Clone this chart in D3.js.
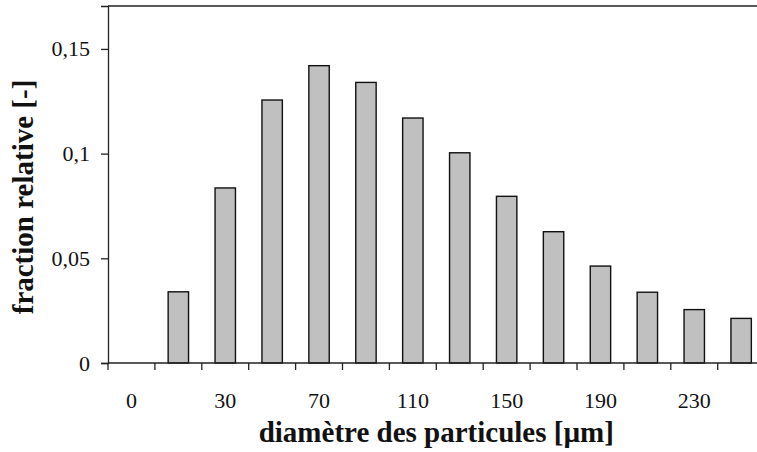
<!DOCTYPE html>
<html>
<head>
<meta charset="utf-8">
<script src="https://cdn.jsdelivr.net/npm/d3@7"></script>
<style>
    html, body { margin: 0; padding: 0; background: #fff; overflow: hidden; }
    svg { display: block; font-family: "Palatino Linotype", "Book Antiqua", Palatino, "Liberation Serif", serif; }
</style>
</head>
<body>
<div class="graph"></div>
<script>
"use strict";

// diameter classes [µm]; first class has no bar
var categories = [0, 10, 30, 50, 70, 90, 110, 130, 150, 170, 190, 210, 230, 250];
var fractions = [0, 0.034, 0.0836, 0.1256, 0.142, 0.134, 0.117, 0.1004, 0.0796, 0.0627, 0.0463, 0.0338, 0.0255, 0.0213];
var labelledCategories = [0, 30, 70, 110, 150, 190, 230];
var yTicks = [0, 0.05, 0.1, 0.15];

var width = 757;
var height = 452;
var plotLeft = 108;
var plotTop = 6;
var plotBottom = 363;
var bandWidth = 46.9;
var plotRight = plotLeft + bandWidth * categories.length;

var svg = d3.select(".graph").append("svg").attr("width", width).attr("height", height);

var xScale = d3.scaleBand().domain(categories).range([plotLeft, plotRight]).paddingInner(0).paddingOuter(0);
var yScale = d3.scaleLinear().domain([0, 0.1705]).range([plotBottom, plotTop]);

var formatComma = function (d) {
    return d === 0 ? "0" : String(d).replace(".", ",");
};

// top edge of the plot frame (the right edge is cut off in the picture)
svg.append("line")
    .attr("x1", plotLeft).attr("x2", width + 10).attr("y1", plotTop).attr("y2", plotTop)
    .attr("stroke", "#222").attr("stroke-width", 1.3);

// bars
var barWidth = xScale.bandwidth() * 0.435;
svg.selectAll("rect.bar").data(categories.map(function (c, i) {
    return { cat: c, value: fractions[i] };
}).filter(function (d) { return d.value > 0; })).enter().append("rect")
    .attr("class", "bar")
    .attr("x", function (d) { return xScale(d.cat) + (xScale.bandwidth() - barWidth) / 2; })
    .attr("y", function (d) { return yScale(d.value); })
    .attr("width", barWidth)
    .attr("height", function (d) { return plotBottom - yScale(d.value); })
    .attr("fill", "#c0c0c0")
    .attr("stroke", "#111")
    .attr("stroke-width", 1.4);

// y axis
var yAxis = d3.axisLeft(yScale).tickValues(yTicks).tickSize(7).tickPadding(11).tickFormat(formatComma);
var yG = svg.append("g").attr("transform", "translate(" + plotLeft + ",0)").call(yAxis);
yG.attr("font-family", null);
yG.select(".domain").attr("stroke", "#222").attr("stroke-width", 1.3);
yG.selectAll(".tick line").attr("stroke", "#222").attr("stroke-width", 1.3);
yG.selectAll(".tick text").attr("font-size", 22).attr("fill", "#111");

// x axis: ticks at class boundaries, labels every other class
svg.append("line")
    .attr("x1", plotLeft).attr("x2", width + 10).attr("y1", plotBottom).attr("y2", plotBottom)
    .attr("stroke", "#222").attr("stroke-width", 1.3);
svg.selectAll("line.xtick").data(categories).enter().append("line")
    .attr("class", "xtick")
    .attr("x1", function (d) { return xScale(d); })
    .attr("x2", function (d) { return xScale(d); })
    .attr("y1", plotBottom).attr("y2", plotBottom + 7)
    .attr("stroke", "#222").attr("stroke-width", 1.3);
svg.selectAll("text.xlabel").data(labelledCategories).enter().append("text")
    .attr("class", "xlabel")
    .attr("x", function (d) { return xScale(d) + xScale.bandwidth() / 2; })
    .attr("y", 408)
    .attr("text-anchor", "middle")
    .attr("font-size", 22)
    .attr("fill", "#111")
    .text(function (d) { return d; });

// axis titles
svg.append("text")
    .attr("x", (plotLeft + plotRight) / 2).attr("y", 442)
    .attr("text-anchor", "middle")
    .attr("font-size", 29).attr("font-weight", "bold").attr("fill", "#111")
    .text("diamètre des particules [µm]");

svg.append("text")
    .attr("transform", "translate(33,197) rotate(-90)")
    .attr("text-anchor", "middle")
    .attr("font-size", 29).attr("font-weight", "bold").attr("fill", "#111")
    .text("fraction relative [-]");
</script>
</body>
</html>
